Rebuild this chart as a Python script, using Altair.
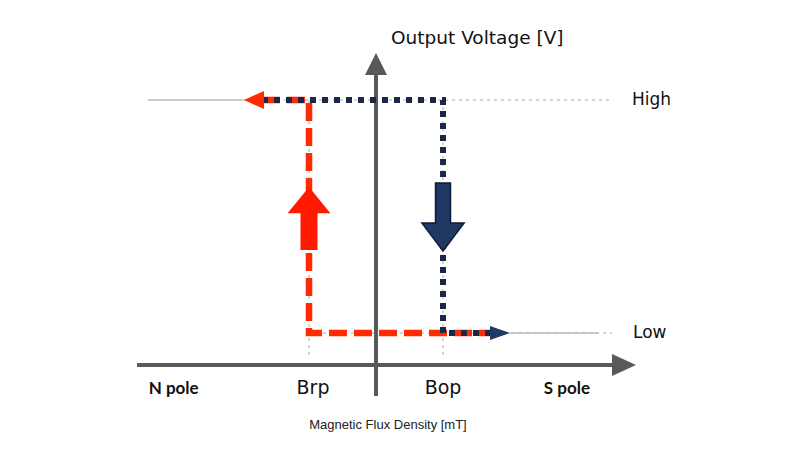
import altair as alt
import pandas as pd

# ---- diagram values (semantic units: B relative to switching points, output level) ----
B_RP = -1.0          # release point
B_OP = 1.0           # operate point
LOW = 0.0
HIGH = 1.0
level_labels = ["High", "Low"]
level_values = [HIGH, LOW]
pole_labels = ["N pole", "S pole"]
pole_values = [-3.02, 2.85]
point_labels = ["Brp", "Bop"]
point_values = [B_RP, B_OP]
y_title = "Output Voltage [V]"
x_title = "Magnetic Flux Density [mT]"

# ---- layout (pixel mapping of the diagram units) ----
X0, XU = 376.0, 67.0     # px of B=0, px per unit
Y0, YU = 333.0, 233.0    # px of LOW, px per unit
W, H = 784, 434
def ux(px): return (px - X0) / XU
def uy(py): return (Y0 - py) / YU

xs = alt.Scale(domain=[ux(8), ux(8 + W)], nice=False, zero=False)
ys = alt.Scale(domain=[uy(8 + H), uy(8)], nice=False, zero=False)
X = lambda f: alt.X(f, scale=xs, axis=None)
Y = lambda f: alt.Y(f, scale=ys, axis=None)

AX_Y = uy(365)   # level of horizontal axis

def rules(df, **kw):
    return alt.Chart(pd.DataFrame(df)).mark_rule(**kw).encode(
        x=X("x:Q"), x2="x2", y=Y("y:Q"), y2="y2")

# faint guide lines
guides_dot = rules({"x": [ux(242), B_RP, B_RP, B_OP],
                    "x2": [ux(612), ux(612), B_RP, B_OP],
                    "y": [HIGH, LOW, HIGH, HIGH],
                    "y2": [HIGH, LOW, uy(356), uy(356)]},
                   color="#c8c8c8", strokeWidth=1.5, strokeDash=[3, 4])
guides_solid = rules({"x": [ux(148), ux(510)], "x2": [ux(242), ux(598)],
                      "y": [HIGH, LOW], "y2": [HIGH, LOW]},
                     color="#b8b8b8", strokeWidth=1.5)

# axes
axes = rules({"x": [ux(137), 0.0], "x2": [ux(614), 0.0],
              "y": [AX_Y, uy(396)], "y2": [AX_Y, uy(72)]},
             color="#595959", strokeWidth=4)
ax_up = alt.Chart(pd.DataFrame({"x": [0.0], "y": [uy(64)]})).mark_point(
    shape="M0,-1L1,1L-1,1Z", filled=True, size=484, color="#595959", opacity=1
).encode(x=X("x:Q"), y=Y("y:Q"))
ax_right = alt.Chart(pd.DataFrame({"x": [ux(624)], "y": [AX_Y]})).mark_point(
    shape="M1,0L-1,-0.92L-1,0.92Z", filled=True, size=576, color="#595959", opacity=1
).encode(x=X("x:Q"), y=Y("y:Q"))

# hysteresis paths
red_path = pd.DataFrame({"x": [ux(262), B_RP, B_RP, ux(494)],
                         "y": [HIGH, HIGH, LOW, LOW], "o": [0, 1, 2, 3]})
navy_path = pd.DataFrame({"x": [ux(262), B_OP, B_OP, ux(492)],
                          "y": [HIGH, HIGH, LOW, LOW], "o": [0, 1, 2, 3]})
red_line = alt.Chart(red_path).mark_line(
    color="#ff2a00", strokeWidth=6.5, strokeDash=[18, 7], strokeCap="butt",
    strokeJoin="miter").encode(x=X("x:Q"), y=Y("y:Q"), order="o:Q")
navy_line = alt.Chart(navy_path).mark_line(
    color="#1c2747", strokeWidth=6, strokeDash=[6, 6], strokeCap="butt",
    strokeJoin="miter").encode(x=X("x:Q"), y=Y("y:Q"), order="o:Q")

red_head = alt.Chart(pd.DataFrame({"x": [ux(254)], "y": [HIGH]})).mark_point(
    shape="M-1,0L1,-0.9L1,0.9Z", filled=True, size=400, color="#ff2a00", opacity=1
).encode(x=X("x:Q"), y=Y("y:Q"))
navy_head = alt.Chart(pd.DataFrame({"x": [ux(500)], "y": [LOW]})).mark_point(
    shape="M1,0L-1,-0.7L-1,0.7Z", filled=True, size=400, color="#1f3864", opacity=1
).encode(x=X("x:Q"), y=Y("y:Q"))

# block arrows
red_block = alt.Chart(pd.DataFrame({"x": [B_RP], "y": [uy(218.5)]})).mark_point(
    shape="M0,-1L0.68,-0.17L0.27,-0.17L0.27,1L-0.27,1L-0.27,-0.17L-0.68,-0.17Z",
    filled=True, size=3969, color="#ff1a00", opacity=1
).encode(x=X("x:Q"), y=Y("y:Q"))
navy_block = alt.Chart(pd.DataFrame({"x": [B_OP], "y": [uy(217)]})).mark_point(
    shape="M0,1L0.62,0.18L0.22,0.18L0.22,-1L-0.22,-1L-0.22,0.18L-0.62,0.18Z",
    filled=True, size=4624, fill="#1f3864", stroke="#0f1a33", strokeWidth=1.5,
    opacity=1
).encode(x=X("x:Q"), y=Y("y:Q"))

# texts
lvl = alt.Chart(pd.DataFrame({"t": level_labels, "y": level_values,
                              "x": [ux(632), ux(633)]})).mark_text(
    align="left", baseline="middle", font="DejaVu Sans", fontSize=17, color="#111"
).encode(x=X("x:Q"), y=Y("y:Q"), text="t:N")
ttl = alt.Chart(pd.DataFrame({"t": [y_title], "x": [ux(391)], "y": [uy(38)]})).mark_text(
    align="left", baseline="middle", font="DejaVu Sans", fontSize=18.5, color="#111"
).encode(x=X("x:Q"), y=Y("y:Q"), text="t:N")
poles = alt.Chart(pd.DataFrame({"t": pole_labels, "x": pole_values,
                                "y": [uy(389)] * 2})).mark_text(
    align="center", baseline="middle", font="Lato", fontSize=17,
    fontWeight="bold", color="#111"
).encode(x=X("x:Q"), y=Y("y:Q"), text="t:N")
pts = alt.Chart(pd.DataFrame({"t": point_labels,
                              "x": [v + ux(313) - B_RP if v == B_RP else v for v in point_values],
                              "y": [uy(388)] * 2})).mark_text(
    align="center", baseline="middle", font="DejaVu Sans", fontSize=19, color="#111"
).encode(x=X("x:Q"), y=Y("y:Q"), text="t:N")
xt = alt.Chart(pd.DataFrame({"t": [x_title], "x": [ux(388)], "y": [uy(425)]})).mark_text(
    align="center", baseline="middle", font="Liberation Sans", fontSize=13, color="#222"
).encode(x=X("x:Q"), y=Y("y:Q"), text="t:N")

chart = alt.layer(
    guides_dot, guides_solid, axes, ax_up, ax_right,
    red_line, navy_line, red_head, navy_head, red_block, navy_block,
    lvl, ttl, poles, pts, xt
).properties(
    width=W, height=H, padding=0, autosize=alt.AutoSizeParams(type="none")
).configure_view(stroke=None)

chart.save("out.html", embed_options={"renderer": "svg", "actions": False})
